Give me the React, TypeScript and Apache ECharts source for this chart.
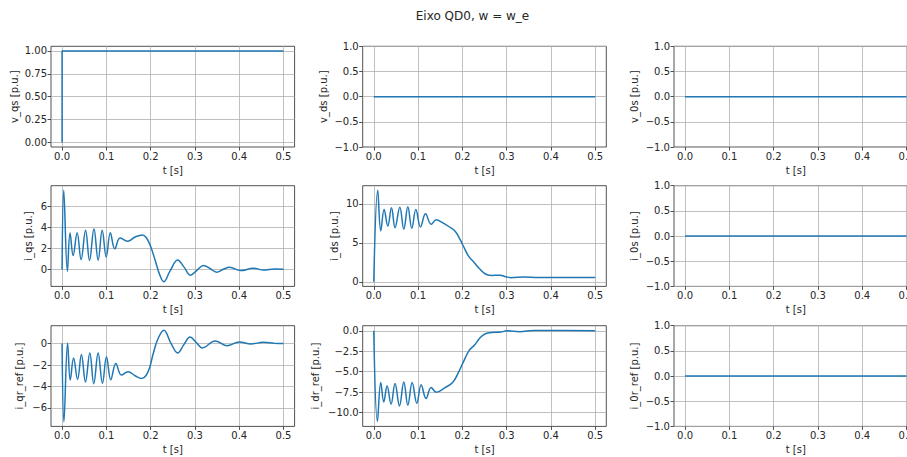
import React, { useEffect, useRef } from 'react';
import * as echarts from 'echarts';

const TITLE = 'Eixo QD0, w = w_e';
const X_NAME = 't [s]';
const xTicks = [0, 0.1, 0.2, 0.3, 0.4, 0.5];
const xTickLabels = ['0.0', '0.1', '0.2', '0.3', '0.4', '0.5'];

const yNames = ['v_qs [p.u.]', 'v_ds [p.u.]', 'v_0s [p.u.]', 'i_qs [p.u.]', 'i_ds [p.u.]', 'i_0s [p.u.]', 'i_qr_ref [p.u.]', 'i_dr_ref [p.u.]', 'i_0r_ref [p.u.]'];

const vqsTicks = [0, 0.25, 0.5, 0.75, 1];
const vqsTickLabels = ['0.00', '0.25', '0.50', '0.75', '1.00'];
const zeroTicks = [-1, -0.5, 0, 0.5, 1];
const zeroTickLabels = ['\u22121.0', '\u22120.5', '0.0', '0.5', '1.0'];
const iqsTicks = [0, 2, 4, 6];
const iqsTickLabels = ['0', '2', '4', '6'];
const idsTicks = [0, 5, 10];
const idsTickLabels = ['0', '5', '10'];
const iqrTicks = [-6, -4, -2, 0];
const iqrTickLabels = ['\u22126', '\u22124', '\u22122', '0'];
const idrTicks = [-10, -7.5, -5, -2.5, 0];
const idrTickLabels = ['\u221210.0', '\u22127.5', '\u22125.0', '\u22122.5', '0.0'];

const vqs = [[0, 0], [0, 1], [0.5, 1]];
const zeroLine = [[0, 0], [0.5, 0]];

const iqs = [[0, 0], [0.0038, 7.55], [0.012, -0.16], [0.018, 3.49], [0.025, 1.33], [0.034, 3.5], [0.043, 0.95], [0.053, 3.75], [0.062, 0.86], [0.072, 3.87], [0.0815, 0.89], [0.0906, 3.75], [0.0997, 1.2], [0.109, 3.5], [0.119, 1.97], [0.131, 3.0], [0.148, 2.7], [0.165, 3.1], [0.181, 3.3], [0.19, 3.05], [0.2, 2.2], [0.21, 0.9], [0.22, -0.45], [0.2295, -1.17], [0.2436, -0.16], [0.261, 0.9], [0.275, 0.25], [0.29, -0.55], [0.305, -0.05], [0.319, 0.38], [0.334, 0.1], [0.349, -0.25], [0.363, 0.0], [0.378, 0.22], [0.403, -0.1], [0.432, 0.12], [0.455, -0.05], [0.48, 0.05], [0.5, 0.03]];

const ids = [[0, 0], [0.009, 11.74], [0.0158, 6.53], [0.0234, 9.28], [0.0317, 7.16], [0.04, 9.49], [0.048, 6.95], [0.0588, 9.58], [0.0678, 6.74], [0.0769, 9.62], [0.0859, 6.86], [0.095, 9.28], [0.1055, 7.03], [0.1168, 8.73], [0.1296, 7.37], [0.141, 7.95], [0.155, 7.6], [0.172, 7.0], [0.185, 6.4], [0.195, 5.4], [0.203, 4.5], [0.214, 3.3], [0.227, 2.45], [0.24, 1.6], [0.252, 1.0], [0.265, 0.82], [0.285, 0.85], [0.298, 0.65], [0.31, 0.52], [0.34, 0.62], [0.37, 0.55], [0.42, 0.55], [0.5, 0.55]];

const iqr = [[0, 0], [0.0042, -7.3], [0.0125, 0.05], [0.0185, -3.4], [0.026, -1.35], [0.035, -3.35], [0.0437, -1.02], [0.0528, -3.59], [0.0626, -0.87], [0.0716, -3.74], [0.0814, -0.87], [0.0912, -3.71], [0.1003, -1.24], [0.11, -3.37], [0.1214, -1.86], [0.134, -2.94], [0.149, -2.63], [0.165, -3.0], [0.18, -3.25], [0.19, -2.95], [0.198, -2.2], [0.206, -0.9], [0.217, 0.5], [0.23, 1.24], [0.245, 0.1], [0.261, -0.87], [0.275, -0.1], [0.289, 0.62], [0.303, 0.1], [0.3167, -0.4], [0.3454, 0.25], [0.3718, -0.19], [0.4005, 0.15], [0.426, -0.03], [0.455, 0.12], [0.48, 0.02], [0.5, 0.0]];

const idr = [[0, 0], [0.0083, -11.1], [0.0158, -6.34], [0.0226, -8.7], [0.0301, -6.75], [0.039, -8.98], [0.048, -6.46], [0.058, -9.19], [0.0678, -6.26], [0.0769, -9.1], [0.0867, -6.34], [0.0972, -8.86], [0.107, -6.59], [0.118, -8.29], [0.1296, -6.95], [0.141, -7.52], [0.161, -6.95], [0.178, -6.34], [0.191, -5.12], [0.205, -3.5], [0.2155, -2.4], [0.2276, -1.75], [0.24, -0.85], [0.252, -0.37], [0.267, -0.2], [0.287, -0.16], [0.3, 0.0], [0.33, -0.12], [0.36, 0.04], [0.4, 0.03], [0.5, 0.0]];

const seriesData = [vqs, zeroLine, zeroLine, iqs, ids, zeroLine, iqr, idr, zeroLine];
const smoothFlags = [false, false, false, true, true, false, true, true, false];
const yRanges = [[-0.05, 1.05], [-1, 1], [-1, 1], [-1.61, 7.99], [-0.59, 12.33], [-1, 1], [-7.73, 1.67], [-11.7, 0.62], [-1, 1]];
const yTickSets = [vqsTicks, zeroTicks, zeroTicks, iqsTicks, idsTicks, zeroTicks, iqrTicks, idrTicks, zeroTicks];
const yLabelSets = [vqsTickLabels, zeroTickLabels, zeroTickLabels, iqsTickLabels, idsTickLabels, zeroTickLabels, iqrTickLabels, idrTickLabels, zeroTickLabels];

// layout
const colLeft = [51, 362.7, 674];
const rowTop = [46.3, 185.7, 325.7];
const cellW = 243.6;
const cellH = 100.7;
const yNameGaps = [32, 34, 35, 18, 23, 35, 27, 42, 35];

const FONT = 'DejaVu Sans';
const TEXT = '#262626';

function fmt(ticks: number[], labels: string[]) {
  return (v: number) => {
    const i = ticks.findIndex((t) => Math.abs(t - v) < 1e-9);
    return i >= 0 ? labels[i] : '';
  };
}

export default function App() {
  const ref = useRef<HTMLDivElement>(null);
  useEffect(() => {
    if (!ref.current) return;
    const chart = echarts.init(ref.current, undefined, { renderer: 'svg' });
    const grids: any[] = [];
    const xAxes: any[] = [];
    const yAxes: any[] = [];
    const series: any[] = [];
    for (let i = 0; i < 9; i++) {
      const r = Math.floor(i / 3);
      const c = i % 3;
      grids.push({
        left: colLeft[c], top: rowTop[r], width: cellW, height: cellH,
        outerBoundsMode: 'none', containLabel: false,
        show: true, borderColor: TEXT, borderWidth: 0.8, backgroundColor: 'transparent',
      });
      xAxes.push({
        gridIndex: i, type: 'value', min: -0.025, max: 0.525,
        axisLine: { show: false, onZero: false },
        axisTick: { show: true, length: 3.5, customValues: xTicks, lineStyle: { color: TEXT, width: 0.8 } },
        axisLabel: { customValues: xTicks, formatter: fmt(xTicks, xTickLabels), margin: 4, fontFamily: FONT, fontSize: 10, color: TEXT, hideOverlap: false },
        splitLine: { show: true, lineStyle: { color: '#b0b0b0', width: 0.8 } },
        name: X_NAME, nameLocation: 'middle', nameGap: 18,
        nameTextStyle: { fontFamily: FONT, fontSize: 10, color: TEXT },
      });
      const yt = yTickSets[i];
      yAxes.push({
        gridIndex: i, type: 'value', min: yRanges[i][0], max: yRanges[i][1],
        axisLine: { show: false, onZero: false },
        axisTick: { show: true, length: 3.5, customValues: yt, lineStyle: { color: TEXT, width: 0.8 } },
        axisLabel: { customValues: yt, formatter: fmt(yt, yLabelSets[i]), margin: 4, fontFamily: FONT, fontSize: 10, color: TEXT },
        splitLine: { show: true, lineStyle: { color: '#b0b0b0', width: 0.8 } },
        name: yNames[i], nameLocation: 'middle', nameGap: yNameGaps[i],
        nameTextStyle: { fontFamily: FONT, fontSize: 10, color: TEXT },
      });
      series.push({
        type: 'line', xAxisIndex: i, yAxisIndex: i, data: seriesData[i],
        showSymbol: false, symbol: 'none', smooth: smoothFlags[i] ? 0.4 : false,
        lineStyle: { color: '#1f77b4', width: 1.5 }, itemStyle: { color: '#1f77b4' },
        silent: true,
      });
    }
    chart.setOption({
      animation: false,
      backgroundColor: '#ffffff',
      grid: grids,
      xAxis: xAxes,
      yAxis: yAxes,
      series,
      graphic: [{
        type: 'text', x: 472.5, y: 16,
        style: { text: TITLE, align: 'center', verticalAlign: 'middle', fontFamily: FONT, fontSize: 12, fill: TEXT },
      }],
    });
    return () => chart.dispose();
  }, []);
  return <div ref={ref} style={{ position: 'fixed', left: 0, top: 0, width: 907, height: 457, background: '#fff' }} />;
}
